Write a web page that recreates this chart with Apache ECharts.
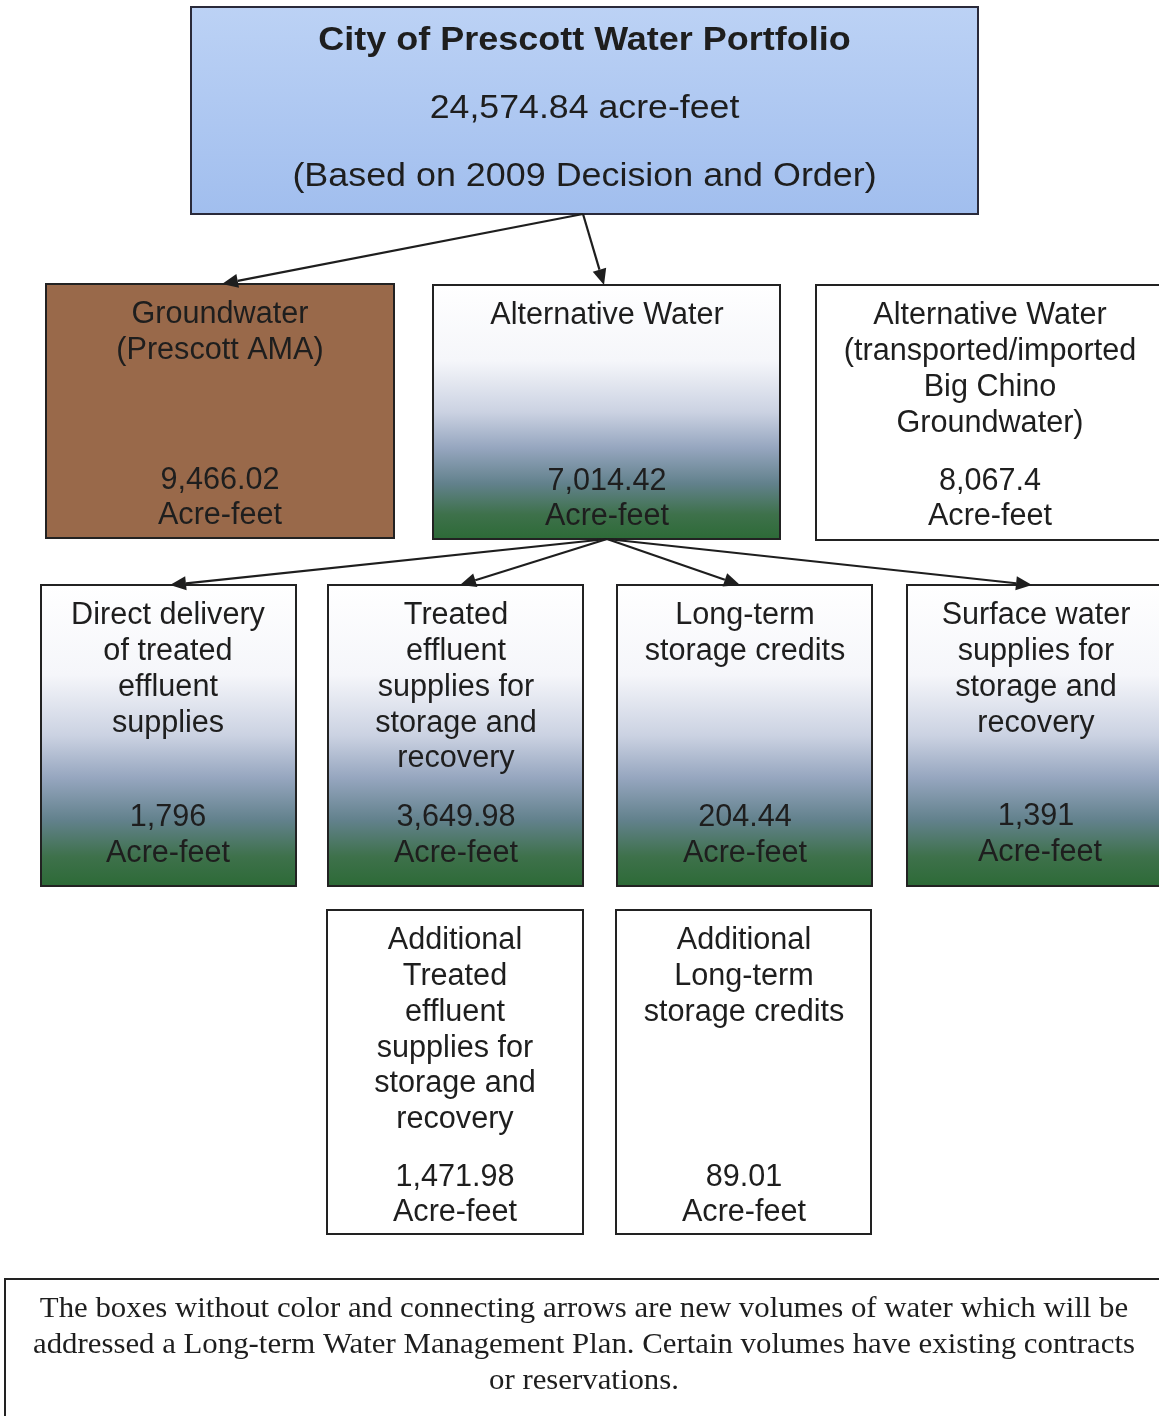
<!DOCTYPE html>
<html>
<head>
<meta charset="utf-8">
<script src="https://cdn.jsdelivr.net/npm/echarts@6/dist/echarts.min.js"></script>
<style>
html,body{margin:0;padding:0;background:#ffffff;}
#chart{width:1159px;height:1416px;}
</style>
</head>
<body>
<div id="chart"></div>
<script>
// ---------- DATA ----------
const portfolioTitle = 'City of Prescott Water Portfolio';
const portfolioTotal = 24574.84;
const portfolioUnit = 'acre-feet';
const portfolioBasis = '(Based on 2009 Decision and Order)';

const nodeLabels = [
  'Groundwater\n(Prescott AMA)',
  'Alternative Water',
  'Alternative Water\n(transported/imported\nBig Chino\nGroundwater)',
  'Direct delivery\nof treated\neffluent\nsupplies',
  'Treated\neffluent\nsupplies for\nstorage and\nrecovery',
  'Long-term\nstorage credits',
  'Surface water\nsupplies for\nstorage and\nrecovery',
  'Additional\nTreated\neffluent\nsupplies for\nstorage and\nrecovery',
  'Additional\nLong-term\nstorage credits'
];
const nodeValues = [9466.02, 7014.42, 8067.4, 1796, 3649.98, 204.44, 1391, 1471.98, 89.01];
const nodeUnit = 'Acre-feet';
const nodeKinds = ['ground', 'alt', 'new', 'alt', 'alt', 'alt', 'alt', 'new', 'new'];
// edges: -1 = portfolio (top) box
const edgeFrom = [-1, -1, 1, 1, 1, 1];
const edgeTo   = [0, 1, 3, 4, 5, 6];

const noteText = 'The boxes without color and connecting arrows are new volumes of water which will be\naddressed a Long-term Water Management Plan. Certain volumes have existing contracts\nor reservations.';

// ---------- LAYOUT (positions/sizes only) ----------
const topBox = [191, 7, 787, 207];
const nodeBoxes = [
  [46, 284, 348, 254],
  [433, 285, 347, 254],
  [816, 285, 360, 255],
  [41, 585, 255, 301],
  [328, 585, 255, 301],
  [617, 585, 255, 301],
  [907, 585, 270, 301],
  [327, 910, 256, 324],
  [616, 910, 255, 324]
];
// per-box text offsets: [first label line from top, value from bottom, unit from bottom]
const nodeTextOffsets = [
  [31, 57, 22], [31, 57, 22], [31, 58, 23],
  [31, 68, 32], [31, 68, 32], [31, 68, 32], [31, 69, 33],
  [31, 56, 21], [31, 56, 21]
];
const textCenterX = [220, 607, 990, 168, 456, 745, 1036, 455, 744];
const arrowTipX = [222, 604, 170, 460, 740, 1032];
const noteBox = [5, 1279, 1170, 160];

// ---------- BUILD ----------
const chart = echarts.init(document.getElementById('chart'), null, {renderer: 'canvas'});
const fmt = v => v.toLocaleString('en-US', {maximumFractionDigits: 2});
const SANS = '"Liberation Sans", Arial, sans-serif';
const SERIF = '"Liberation Serif", "Times New Roman", serif';
const INK = '#1e1e1e';
const LG = echarts.graphic.LinearGradient;

function fillFor(kind) {
  if (kind === 'ground') return '#99694a';
  if (kind === 'alt') return new LG(0, 0, 0, 1, [
    {offset: 0, color: '#ffffff'},
    {offset: 0.3, color: '#f5f6fa'},
    {offset: 0.5, color: '#cbd2e2'},
    {offset: 0.64, color: '#96a6bf'},
    {offset: 0.78, color: '#62818c'},
    {offset: 0.9, color: '#3e714b'},
    {offset: 1, color: '#2c6a36'}
  ]);
  return '#ffffff';
}

const els = [];
function text(x, y, str, size, opts) {
  opts = opts || {};
  els.push({
    type: 'text', x: x, y: y, z: 10,
    scaleX: opts.scaleX || 1,
    style: {
      text: str, fill: INK,
      font: (opts.weight || 'normal') + ' ' + size + 'px ' + (opts.family || SANS),
      textAlign: 'center', textVerticalAlign: 'middle'
    }
  });
}

// top box
els.push({
  type: 'rect', shape: {x: topBox[0], y: topBox[1], width: topBox[2], height: topBox[3]},
  style: {fill: new LG(0, 0, 0, 1, [{offset: 0, color: '#bcd2f5'}, {offset: 1, color: '#a1beee'}]), stroke: '#2a2a3a', lineWidth: 2}
});
const tcx = topBox[0] + topBox[2] / 2;
text(tcx, topBox[1] + 34, portfolioTitle, 33, {weight: 'bold', scaleX: 1.09});
text(tcx, topBox[1] + 102, fmt(portfolioTotal) + ' ' + portfolioUnit, 34, {scaleX: 1.05});
text(tcx, topBox[1] + 170, portfolioBasis, 34, {scaleX: 1.055});

// node boxes
nodeLabels.forEach((lab, i) => {
  const b = nodeBoxes[i];
  const off = nodeTextOffsets[i];
  els.push({
    type: 'rect', shape: {x: b[0], y: b[1], width: b[2], height: b[3]},
    style: {fill: fillFor(nodeKinds[i]), stroke: '#222222', lineWidth: 2}
  });
  const cx = textCenterX[i];
  lab.split('\n').forEach((ln, k) => {
    text(cx, b[1] + off[0] + k * 35.7, ln, 30.6);
  });
  text(cx, b[1] + b[3] - off[1], fmt(nodeValues[i]), 30.6);
  text(cx + (i === 6 ? 4 : 0), b[1] + b[3] - off[2], nodeUnit, 30.6);
});

// arrows
function arrow(x1, y1, x2, y2) {
  const ang = Math.atan2(y2 - y1, x2 - x1);
  const L = 16, W = 7;
  const bx = x2 - L * Math.cos(ang), by = y2 - L * Math.sin(ang);
  const px = -Math.sin(ang), py = Math.cos(ang);
  els.push({type: 'line', shape: {x1: x1, y1: y1, x2: bx, y2: by}, style: {stroke: INK, lineWidth: 2.2}, z: 5});
  els.push({type: 'polygon', shape: {points: [[x2, y2], [bx + px * W, by + py * W], [bx - px * W, by - py * W]]}, style: {fill: INK}, z: 5});
}
edgeFrom.forEach((f, e) => {
  const t = edgeTo[e];
  const src = f < 0 ? topBox : nodeBoxes[f];
  const sx = f < 0 ? 583 : 607;
  const sy = src[1] + src[3];
  const tb = nodeBoxes[t];
  arrow(sx, sy, arrowTipX[e], tb[1]);
});

// note box
els.push({
  type: 'rect', shape: {x: noteBox[0], y: noteBox[1], width: noteBox[2], height: noteBox[3]},
  style: {fill: '#ffffff', stroke: '#222222', lineWidth: 2}
});
noteText.split('\n').forEach((ln, k) => {
  text(584, 1309 + k * 36, ln, 30, {family: SERIF, scaleX: 1.027});
});

chart.setOption({
  backgroundColor: '#ffffff',
  animation: false,
  graphic: {elements: els}
});
</script>
</body>
</html>
